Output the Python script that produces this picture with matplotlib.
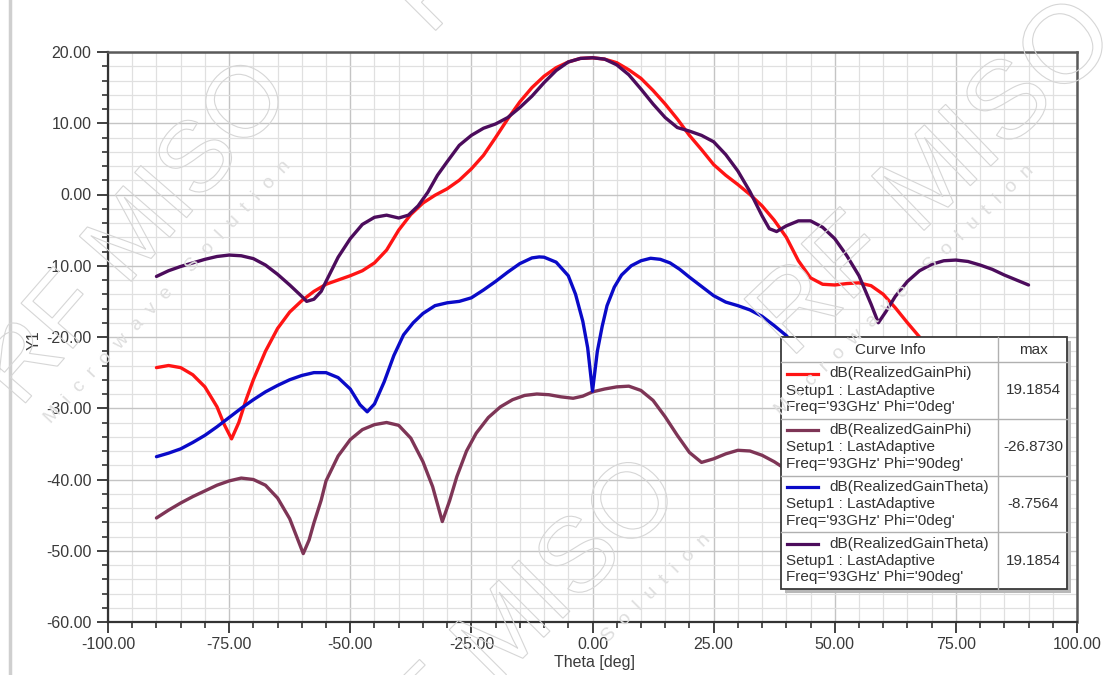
import numpy as np
import matplotlib
matplotlib.use('Agg')
import matplotlib.pyplot as plt
from matplotlib.patches import Rectangle, PathPatch
from matplotlib.lines import Line2D
from matplotlib.textpath import TextPath
from matplotlib.font_manager import FontProperties
from matplotlib.transforms import Affine2D, IdentityTransform
from matplotlib.ticker import MultipleLocator, FormatStrFormatter

plt.rcParams['font.family'] = ['Liberation Sans', 'DejaVu Sans']

# ---------------- data ----------------
theta_phi0 = [-90, -87.5, -85, -82.5, -80, -77.5, -76, -74.5, -73, -71.5, -70, -67.5, -65, -62.5,
              -60, -57.5, -55, -52.5, -50, -47.5, -45, -42.5, -40, -37.5, -35, -32.5, -30, -27.5,
              -25, -22.5, -20, -17.5, -15, -12.5, -10, -7.5, -5, -2.5, 0, 2.5, 5, 7.5, 10, 12.5,
              15, 17.5, 20, 22.5, 25, 27.5, 30, 32.5, 35, 37.5, 40, 42.5, 45, 47.5, 50, 52.5, 55,
              57.5, 60, 62.5, 65, 67.5, 70, 75, 80, 85, 90]
gain_phi_phi0 = [-24.3, -24.0, -24.3, -25.3, -27.0, -29.8, -32.3, -34.3, -32.0, -28.8, -26.0, -22.0,
                 -18.8, -16.5, -14.9, -13.6, -12.6, -12.0, -11.4, -10.7, -9.6, -7.8, -5.0, -2.8,
                 -1.2, -0.1, 0.8, 2.0, 3.6, 5.5, 8.0, 10.6, 13.0, 15.0, 16.6, 17.8, 18.6, 19.1,
                 19.19, 19.0, 18.5, 17.5, 16.3, 14.6, 12.7, 10.6, 8.3, 6.3, 4.2, 2.7, 1.4, 0.0,
                 -1.6, -3.6, -6.0, -9.3, -11.7, -12.6, -12.7, -12.5, -12.4, -12.8, -14.0, -15.9,
                 -18.0, -20.0, -22.3, -26.0, -28.0, -27.5, -27.0]

theta_phi90 = [-90, -87.5, -85, -82.5, -80, -77.5, -75, -72.5, -70, -67.5, -65, -62.5, -60.5,
               -59.7, -58.5, -57.5, -56, -55, -52.5, -50, -47.5, -45, -42.5, -40, -37.5, -35,
               -33, -31, -29.5, -28, -26, -24, -21.5, -19, -16.5, -14, -11.5, -9, -6.5, -4, -2,
               0, 2.5, 5, 7.5, 10, 12.5, 15, 17.5, 20, 22.5, 25, 27.5, 30, 32.5, 35, 37.5, 40,
               45, 50, 55, 60, 65, 70, 75, 80, 85, 90]
gain_phi_phi90 = [-45.4, -44.3, -43.3, -42.4, -41.6, -40.8, -40.2, -39.8, -40.0, -40.8, -42.6,
                  -45.5, -49.0, -50.4, -48.5, -46.1, -42.9, -40.2, -36.7, -34.4, -33.0, -32.3,
                  -32.0, -32.4, -34.2, -37.5, -41.0, -45.9, -43.0, -39.6, -36.0, -33.5, -31.3,
                  -29.8, -28.8, -28.2, -28.0, -28.1, -28.4, -28.6, -28.3, -27.7, -27.3, -27.0,
                  -26.9, -27.5, -28.9, -31.2, -33.8, -36.2, -37.6, -37.1, -36.4, -35.9, -36.0,
                  -36.6, -37.5, -38.6, -40.5, -42.0, -43.0, -44.0, -43.5, -43.0, -44.0, -45.0,
                  -46.0, -47.0]

theta_th0 = [-90, -87.5, -85, -82.5, -80, -77.5, -75, -72.5, -70, -67.5, -65, -62.5, -60, -57.5,
             -55, -52.5, -50, -48, -46.5, -45, -43, -41, -39, -37, -35, -32.5, -30, -27.5, -25,
             -22.5, -20, -17.5, -15, -12.5, -11, -10, -7.5, -5, -3.5, -2, -1, 0, 1, 2, 3, 4.5,
             6, 8, 10, 12, 14, 16, 18, 20, 22.5, 25, 27.5, 30, 32.5, 35, 37.5, 40, 42.5, 45, 50,
             55, 60, 65, 70, 75, 80, 85, 90]
gain_theta_phi0 = [-36.8, -36.3, -35.7, -34.8, -33.8, -32.6, -31.3, -30.0, -28.8, -27.7, -26.8,
                   -26.0, -25.4, -25.0, -25.0, -25.7, -27.3, -29.5, -30.5, -29.4, -26.3, -22.6,
                   -19.7, -18.0, -16.7, -15.6, -15.2, -15.0, -14.5, -13.4, -12.2, -10.9, -9.7,
                   -8.9, -8.76, -8.8, -9.5, -11.4, -14.0, -17.8, -21.5, -27.6, -22.0, -18.5,
                   -15.6, -13.0, -11.3, -10.0, -9.3, -8.95, -9.1, -9.6, -10.5, -11.6, -12.9,
                   -14.2, -15.1, -15.6, -16.2, -17.1, -18.4, -19.8, -21.8, -24.0, -27.5, -30.5,
                   -32.5, -33.5, -34.0, -33.5, -33.0, -34.0, -35.5]

theta_th90 = [-90, -87.5, -85, -82.5, -80, -77.5, -75, -72.5, -70, -67.5, -65, -62.5, -60, -59,
              -57.5, -56, -55, -52.5, -50, -47.5, -45, -42.5, -40, -38, -36, -34, -32, -30,
              -27.5, -25, -22.5, -20, -17.5, -15, -12.5, -10, -7.5, -5, -2.5, 0, 2.5, 5, 7.5, 10,
              12.5, 15, 17.5, 20, 22.5, 25, 27.5, 30, 32.5, 35, 36.5, 38, 40, 42.5, 45, 47.5, 50,
              52.5, 55, 57.5, 59, 60.5, 62.5, 65, 67.5, 70, 72.5, 75, 77.5, 80, 82.5, 85, 87.5, 90]
gain_theta_phi90 = [-11.5, -10.7, -10.1, -9.6, -9.1, -8.7, -8.5, -8.6, -9.0, -9.9, -11.2, -12.7,
                    -14.3, -15.0, -14.7, -13.6, -12.2, -8.8, -6.2, -4.2, -3.2, -2.9, -3.3, -2.9,
                    -1.6, 0.3, 2.7, 4.6, 6.9, 8.3, 9.3, 9.9, 10.8, 12.2, 13.8, 15.7, 17.4, 18.6,
                    19.1, 19.19, 19.0, 18.2, 16.8, 14.8, 12.7, 10.8, 9.4, 8.9, 8.3, 7.4, 5.6, 3.3,
                    0.4, -3.0, -4.8, -5.2, -4.4, -3.7, -3.7, -4.6, -6.2, -8.6, -11.4, -15.4, -18.0,
                    -16.5, -14.3, -12.2, -10.7, -9.8, -9.3, -9.2, -9.4, -9.9, -10.5, -11.3, -12.0,
                    -12.7]

curve_names = ["dB(RealizedGainPhi)", "dB(RealizedGainPhi)",
               "dB(RealizedGainTheta)", "dB(RealizedGainTheta)"]
curve_freq = ["Freq='93GHz' Phi='0deg'", "Freq='93GHz' Phi='90deg'",
              "Freq='93GHz' Phi='0deg'", "Freq='93GHz' Phi='90deg'"]
curve_max = ["19.1854", "-26.8730", "-8.7564", "19.1854"]
curve_colors = ['#FF1414', '#7E3556', '#0A0AC8', '#4C0C5C']

x_ticks = [-100, -75, -50, -25, 0, 25, 50, 75, 100]
y_ticks = [-60, -50, -40, -30, -20, -10, 0, 10, 20]

# ---------------- figure ----------------
W, H = 1112, 675
fig = plt.figure(figsize=(W / 100, H / 100), dpi=100)
fig.patch.set_facecolor('white')


def fx(x):
    return x / W


def fy(y):
    return 1 - y / H


ax = fig.add_axes([fx(108), fy(622), 969 / W, 570 / H])
series = [(theta_phi0, gain_phi_phi0), (theta_phi90, gain_phi_phi90),
          (theta_th0, gain_theta_phi0), (theta_th90, gain_theta_phi90)]
for (t, g), c in zip(series, curve_colors):
    ax.plot(t, g, color=c, lw=2.4, solid_joinstyle='round', solid_capstyle='round', zorder=3)

ax.set_xlim(-100, 100)
ax.set_ylim(-60, 20)
ax.set_xticks(x_ticks)
ax.set_yticks(y_ticks)
ax.xaxis.set_minor_locator(MultipleLocator(5))
ax.yaxis.set_minor_locator(MultipleLocator(2))
ax.xaxis.set_major_formatter(FormatStrFormatter('%.2f'))
ax.yaxis.set_major_formatter(FormatStrFormatter('%.2f'))
ax.grid(which='major', color='#c4c4c4', lw=1.0, zorder=0)
ax.grid(which='minor', color='#e0e0e0', lw=0.9, zorder=0)
ax.set_axisbelow(True)
ax.tick_params(which='major', direction='out', length=8, width=1.3, color='#333333',
               labelsize=11.5, labelcolor='#3a3a3a', pad=3)
ax.tick_params(which='minor', direction='out', length=4.5, width=1.2, color='#333333')
ax.tick_params(axis='y', which='major', pad=4)
for s in ['left', 'bottom']:
    ax.spines[s].set_color('#333333')
    ax.spines[s].set_linewidth(1.6)
for s in ['top', 'right']:
    ax.spines[s].set_color('#5a5a5a')
    ax.spines[s].set_linewidth(1.8)

fig.text(fx(595), fy(663), 'Theta [deg]', ha='center', va='center', fontsize=11.5, color='#3a3a3a')
fig.text(fx(34), fy(340), 'Y1', ha='center', va='center', rotation=90, fontsize=11.5, color='#3a3a3a')

# window edge on the left
fig.add_artist(Line2D([fx(10), fx(10)], [0, 1], color='#cfcfcf', lw=2.5, transform=fig.transFigure))

# ---------------- legend (Curve Info table) ----------------
L, T, R, B = 781, 337, 1067, 589
fig.add_artist(Rectangle((fx(L + 4), fy(B + 4)), (R - L) / W, (B - T) / H,
                         transform=fig.transFigure, facecolor='#b8b8b8', edgecolor='none', zorder=4))
fig.add_artist(Rectangle((fx(L), fy(B)), (R - L) / W, (B - T) / H,
                         transform=fig.transFigure, facecolor='white', edgecolor='#3a3a3a',
                         lw=1.3, zorder=5))
header_b = 362
row_h = (B - header_b) / 4
col_x = 998
fig.add_artist(Line2D([fx(col_x), fx(col_x)], [fy(T), fy(B)], color='#b0b0b0', lw=1.0,
                      transform=fig.transFigure, zorder=6))
for k in range(4):
    yy = header_b + k * row_h
    fig.add_artist(Line2D([fx(L), fx(R)], [fy(yy), fy(yy)], color='#b0b0b0', lw=1.0,
                          transform=fig.transFigure, zorder=6))
fig.text(fx(890), fy(350), 'Curve Info', ha='center', va='center', fontsize=11, color='#333333', zorder=7)
fig.text(fx(1033), fy(350), 'max', ha='center', va='center', fontsize=11, color='#333333', zorder=7)
for k in range(4):
    top = header_b + k * row_h
    y1, y2, y3 = top + 11.5, top + 28.5, top + 45
    fig.add_artist(Line2D([fx(787), fx(818)], [fy(y1), fy(y1)], color=curve_colors[k], lw=2.3,
                          transform=fig.transFigure, zorder=7))
    fig.text(fx(829), fy(y1), curve_names[k], ha='left', va='center', fontsize=11, color='#333333', zorder=7)
    fig.text(fx(786), fy(y2), 'Setup1 : LastAdaptive', ha='left', va='center', fontsize=11,
             color='#333333', zorder=7)
    fig.text(fx(786), fy(y3), curve_freq[k], ha='left', va='center', fontsize=11, color='#333333', zorder=7)
    fig.text(fx(1033), fy(y2), curve_max[k], ha='center', va='center', fontsize=11, color='#333333', zorder=7)

# ---------------- faint watermark ----------------
wm_font = FontProperties(family='Liberation Sans')


def watermark(text, cx, cy, size, angle, lw=0.8, color='#d6d6d6'):
    tp = TextPath((0, 0), text, size=size, prop=wm_font)
    bb = tp.get_extents()
    tr = (Affine2D().translate(-(bb.x0 + bb.x1) / 2, -(bb.y0 + bb.y1) / 2)
          .rotate_deg(angle).translate(cx, H - cy))
    path = tr.transform_path(tp)
    fig.add_artist(PathPatch(path, facecolor='none', edgecolor=color, lw=lw,
                             transform=IdentityTransform(), zorder=10))


def watermark_small(cx, cy, angle, txt='M  i  c  r  o  w  a  v  e     S  o  l  u  t  i  o  n'):
    fig.text(fx(cx), fy(cy), txt,
             ha='center', va='center', rotation=angle, rotation_mode='anchor',
             fontsize=14, color='#dedede', zorder=10)


watermark('RF MISO', 132, 228, 100, 49)
watermark_small(168, 292, 47)
watermark('RF MISO', 930, 172, 110, 44)
watermark_small(905, 290, 44)
watermark('RF MISO', 505, 625, 105, 45)
watermark_small(656, 588, 45, 'S  o  l  u  t  i  o  n')
watermark('RF MISO', 560, -145, 105, 45)

fig.savefig('out.png', dpi=100)
